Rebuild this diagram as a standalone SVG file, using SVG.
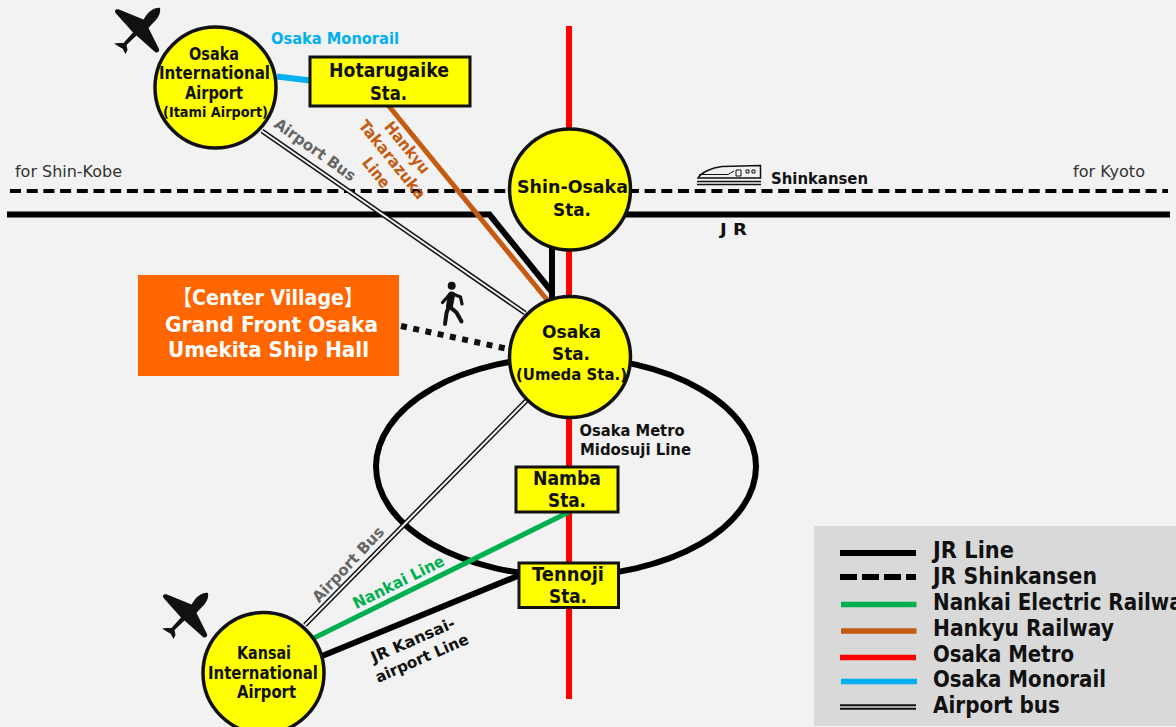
<svg xmlns="http://www.w3.org/2000/svg" width="1176" height="727" viewBox="0 0 1176 727">
<style>
text{font-family:"DejaVu Sans","Noto Sans CJK JP",sans-serif;font-weight:700;text-anchor:middle;fill:#111}
.st{fill:#ff0;stroke:#111;stroke-width:3.5}
.sq{fill:#ff0;stroke:#111;stroke-width:3}
.jr{stroke:#000;stroke-width:6;fill:none}
.sk{stroke:#000;stroke-width:4;stroke-dasharray:11 5.7;fill:none}
.bo{stroke:#111;stroke-width:5;fill:none}
.bi{stroke:#f2f2f2;stroke-width:2;fill:none}
.lb{stroke:#111;stroke-width:5.5;fill:none}
.li{stroke:#d9d9d9;stroke-width:1.6;fill:none}
.f1{font-size:17px}
.f2{font-size:14.5px}
.f3{font-size:20px}
.f4{font-size:15.5px}
.f5{font-size:18.5px}
.f6{font-size:15.5px}
.lg{font-size:23px;text-anchor:start}
.vil{font-size:21.5px;fill:#fff}
.reg{font-weight:400;font-size:15.5px;fill:#333}
.gr{fill:#666;font-size:15.5px}
.ha{fill:#c55a11;font-size:16px}
</style>
<defs>
<path id="plane" d="M160,8 C161,13 158,19 152,24 L148.500,28 L159,49 C160,51.500 157,53.500 155,52 L136.500,35.500 L126.500,45 L127.500,50 L125.500,54 L122.500,48.500 L119.500,47 L114,43.500 L119,43 L123.500,43 L133,32.500 L116,13.500 C113.500,10.500 116,8.500 119,9.500 L143.500,19.500 L146.500,15 C150,10.500 156,7 160,8 Z" fill="#111"/>
</defs>
<rect id="background" width="1176" height="727" fill="#f2f2f2"/>
<rect id="legend-panel" x="814" y="526" width="362" height="200" fill="#d9d9d9"/>

<g id="connectors">
<ellipse id="jr-loop" cx="566" cy="466.500" rx="190" ry="109.500" class="jr"/>
<line id="metro" x1="569" y1="26" x2="569" y2="699" stroke="#f00" stroke-width="6"/>
<line id="shinkansen" x1="10" y1="191" x2="1168" y2="191" class="sk"/>
<path id="jr-main" d="M7,214.500 H489.500 L552,292 M552,248 V298 M625,214.500 H1170" class="jr"/>
<line id="bus-top-o" x1="262" y1="131" x2="525" y2="313" class="bo"/>
<line id="bus-top-i" x1="262" y1="131" x2="525" y2="313" class="bi"/>
<line id="bus-bottom-o" x1="527" y1="400" x2="305" y2="625" class="bo"/>
<line id="bus-bottom-i" x1="527" y1="400" x2="305" y2="625" class="bi"/>
<line id="hankyu" x1="388" y1="105" x2="548" y2="301" stroke="#c55a11" stroke-width="5"/>
<line id="monorail" x1="277" y1="76.500" x2="310" y2="80.500" stroke="#00b0f0" stroke-width="6"/>
<line id="nankai" x1="314" y1="638" x2="569" y2="512" stroke="#00b050" stroke-width="5"/>
<line id="jr-kansai" x1="322" y1="656" x2="520" y2="575" class="jr"/>
<line id="walk" x1="401" y1="326" x2="508" y2="349" stroke="#111" stroke-width="6" stroke-dasharray="6 6.500"/>
</g>

<g id="itami"><circle cx="215.500" cy="87.500" r="60.500" class="st"/>
<text x="214" y="60" class="f1" textLength="50" lengthAdjust="spacingAndGlyphs">Osaka</text>
<text x="214.500" y="79" class="f1" textLength="111" lengthAdjust="spacingAndGlyphs">International</text>
<text x="214" y="99" class="f1" textLength="58" lengthAdjust="spacingAndGlyphs">Airport</text>
<text x="215.500" y="117" class="f2" textLength="105" lengthAdjust="spacingAndGlyphs">(Itami Airport)</text></g>

<g id="hotarugaike"><rect x="310" y="57" width="160" height="49" class="sq"/>
<text x="389" y="77" class="f3" textLength="120" lengthAdjust="spacingAndGlyphs">Hotarugaike</text>
<text x="388.500" y="100" class="f3" textLength="37" lengthAdjust="spacingAndGlyphs">Sta.</text></g>

<g id="shin-osaka"><circle cx="570" cy="189.500" r="60.500" class="st"/>
<text x="572.500" y="193" class="f5" textLength="111" lengthAdjust="spacingAndGlyphs">Shin-Osaka</text>
<text x="572" y="216" class="f5" textLength="38" lengthAdjust="spacingAndGlyphs">Sta.</text></g>

<g id="osaka"><circle cx="570" cy="357" r="60.500" class="st"/>
<text x="571.500" y="338" class="f5" textLength="59" lengthAdjust="spacingAndGlyphs">Osaka</text>
<text x="571" y="360" class="f5" textLength="38" lengthAdjust="spacingAndGlyphs">Sta.</text>
<text x="571.500" y="380" class="f4" textLength="111" lengthAdjust="spacingAndGlyphs">(Umeda Sta.)</text></g>

<g id="namba"><rect x="516" y="467" width="102" height="45" class="sq"/>
<text x="567" y="485" class="f3" textLength="68" lengthAdjust="spacingAndGlyphs">Namba</text>
<text x="567" y="507" class="f3" textLength="38" lengthAdjust="spacingAndGlyphs">Sta.</text></g>

<g id="tennoji"><rect x="519" y="563" width="99.500" height="44.500" class="sq"/>
<text x="568" y="581" class="f3" textLength="72" lengthAdjust="spacingAndGlyphs">Tennoji</text>
<text x="568" y="603" class="f3" textLength="38" lengthAdjust="spacingAndGlyphs">Sta.</text></g>

<g id="kansai"><circle cx="263.500" cy="673" r="60.500" class="st"/>
<text x="264" y="659" class="f1" textLength="54" lengthAdjust="spacingAndGlyphs">Kansai</text>
<text x="263" y="679" class="f1" textLength="110" lengthAdjust="spacingAndGlyphs">International</text>
<text x="266.500" y="698" class="f1" textLength="59" lengthAdjust="spacingAndGlyphs">Airport</text></g>

<g id="center-village"><rect x="138" y="275" width="261" height="101" fill="#f60"/>
<text x="268" y="305" class="vil" textLength="190" lengthAdjust="spacingAndGlyphs">【Center Village】</text>
<text x="271.500" y="332" class="vil" textLength="213" lengthAdjust="spacingAndGlyphs">Grand Front Osaka</text>
<text x="268.500" y="357" class="vil" textLength="201" lengthAdjust="spacingAndGlyphs">Umekita Ship Hall</text></g>

<g id="icons">
<use href="#plane"/>
<use href="#plane" x="48" y="585"/>
<g id="walker" fill="none" stroke="#111" stroke-linecap="round" stroke-linejoin="round">
<circle cx="451.700" cy="285.700" r="4" fill="#111" stroke="none"/>
<path d="M451.500,295 L449.500,306" stroke-width="7"/>
<path d="M449,306 L446.500,313 L445,324 M450,307 L456.500,312.500 L461.500,321.500" stroke-width="4"/>
<path d="M450,294 L442.500,302.500 M453,294 L460.500,297 L462,304" stroke-width="3.200"/>
</g>
<g id="train">
<path d="M698,178 C701,173 711,167.500 722,166.500 L760.500,165.500 V178 Z" fill="#f2f2f2" stroke="#111" stroke-width="1.500"/>
<path d="M699,174.500 H728 L734,171" fill="none" stroke="#111" stroke-width="1"/>
<path d="M736,176 V170 H741 V176 Z M746,170 h3 v3 h-3 Z M752,170 h3 v3 h-3 Z" fill="none" stroke="#111" stroke-width="1"/>
<path d="M697,181.500 H761 M697,184.500 H761" stroke="#111" stroke-width="1.500"/>
</g>
</g>

<g id="labels">
<text x="335" y="44" style="fill:#00b0f0;font-size:16px" textLength="128" lengthAdjust="spacingAndGlyphs">Osaka Monorail</text>
<text class="reg" x="68.500" y="177" textLength="107" lengthAdjust="spacingAndGlyphs">for Shin-Kobe</text>
<text class="reg" x="1109" y="177" textLength="72" lengthAdjust="spacingAndGlyphs">for Kyoto</text>
<text x="819.500" y="184" class="f6" textLength="97" lengthAdjust="spacingAndGlyphs">Shinkansen</text>
<text x="733.500" y="235" class="f6" textLength="27" lengthAdjust="spacingAndGlyphs">J R</text>
<text class="gr" transform="translate(312,154) rotate(35.500)" textLength="96" lengthAdjust="spacingAndGlyphs">Airport Bus</text>
<text class="ha" transform="translate(403,151) rotate(51)" textLength="62" lengthAdjust="spacingAndGlyphs">Hankyu</text>
<text class="ha" transform="translate(388,163) rotate(51)" textLength="96" lengthAdjust="spacingAndGlyphs">Takarazuka</text>
<text class="ha" transform="translate(372,176) rotate(51)" textLength="34" lengthAdjust="spacingAndGlyphs">Line</text>
<text x="632" y="436" class="f6" textLength="105" lengthAdjust="spacingAndGlyphs">Osaka Metro</text>
<text x="635.500" y="455" class="f6" textLength="111" lengthAdjust="spacingAndGlyphs">Midosuji Line</text>
<text class="gr" transform="translate(352,568) rotate(-47)" textLength="97" lengthAdjust="spacingAndGlyphs">Airport Bus</text>
<text transform="translate(401,587) rotate(-26.500)" style="fill:#00b050;font-size:16px" textLength="100" lengthAdjust="spacingAndGlyphs">Nankai Line</text>
<text transform="translate(415,645) rotate(-23.500)" class="f6" textLength="90" lengthAdjust="spacingAndGlyphs">JR Kansai-</text>
<text transform="translate(424,663) rotate(-23.500)" class="f6" textLength="100" lengthAdjust="spacingAndGlyphs">airport Line</text>
</g>

<g id="legend">
<line x1="840" y1="553" x2="916" y2="553" class="jr"/>
<line x1="840" y1="577" x2="916" y2="577" stroke="#000" stroke-width="6" stroke-dasharray="17 5"/>
<line x1="841" y1="604.500" x2="916.500" y2="604.500" stroke="#00b050" stroke-width="5.500"/>
<line x1="841" y1="631" x2="916.500" y2="631" stroke="#c55a11" stroke-width="5.500"/>
<line x1="840" y1="657.500" x2="916" y2="657.500" stroke="#f00" stroke-width="5.500"/>
<line x1="841" y1="681.500" x2="917" y2="681.500" stroke="#00b0f0" stroke-width="5.500"/>
<line x1="840" y1="707" x2="916" y2="707" class="lb"/>
<line x1="840" y1="707" x2="916" y2="707" class="li"/>
<text class="lg" x="933" y="558" textLength="81" lengthAdjust="spacingAndGlyphs">JR Line</text>
<text class="lg" x="933" y="584" textLength="164" lengthAdjust="spacingAndGlyphs">JR Shinkansen</text>
<text class="lg" x="933" y="610" textLength="262" lengthAdjust="spacingAndGlyphs">Nankai Electric Railway</text>
<text class="lg" x="933" y="636" textLength="181" lengthAdjust="spacingAndGlyphs">Hankyu Railway</text>
<text class="lg" x="933" y="662" textLength="141" lengthAdjust="spacingAndGlyphs">Osaka Metro</text>
<text class="lg" x="933" y="687" textLength="173" lengthAdjust="spacingAndGlyphs">Osaka Monorail</text>
<text class="lg" x="933" y="713" textLength="127" lengthAdjust="spacingAndGlyphs">Airport bus</text>
</g>
</svg>
